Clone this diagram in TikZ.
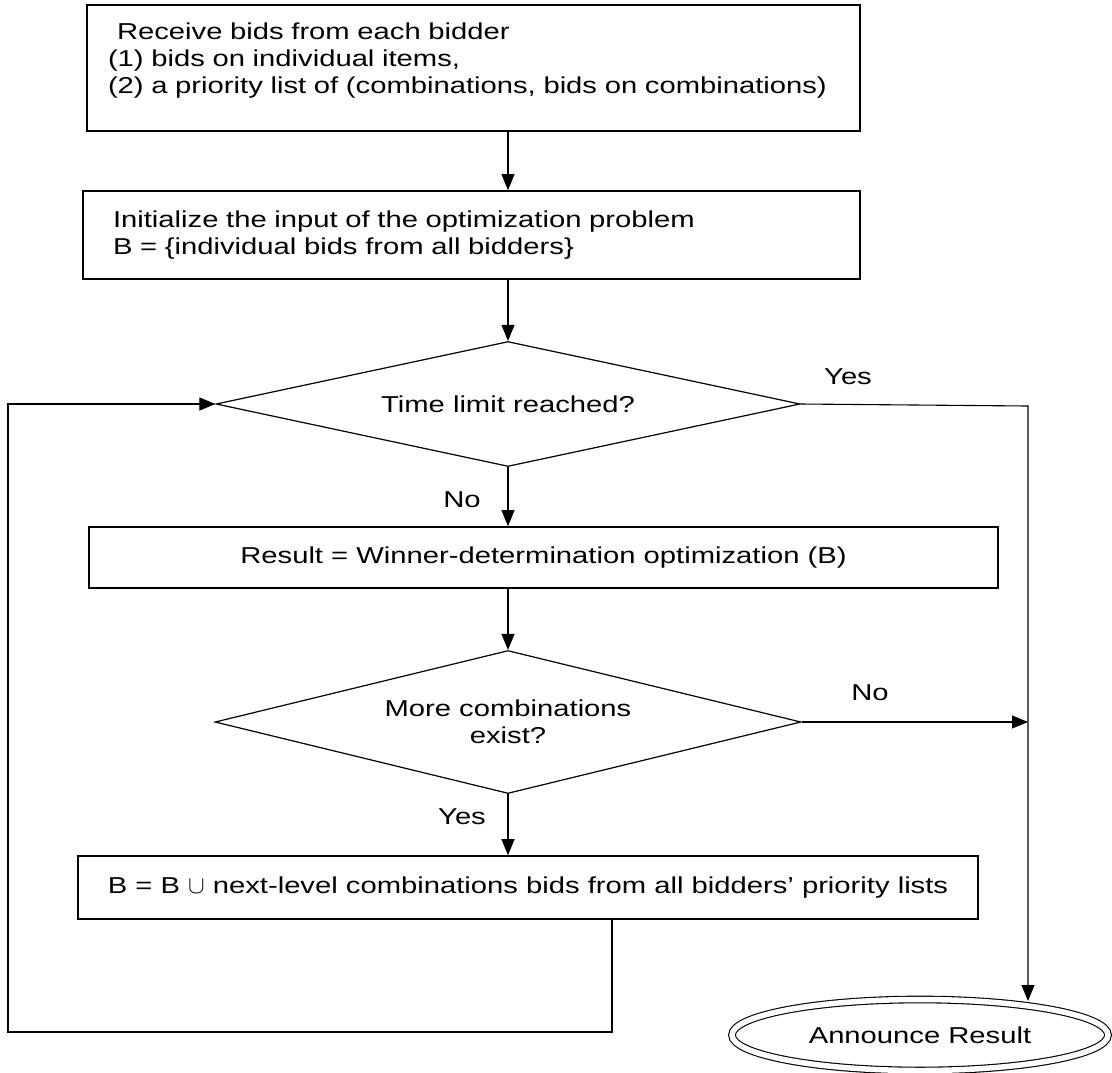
\documentclass[tikz,border=0pt]{standalone}
\usepackage{fontspec}
\setmainfont{Liberation Sans}[FakeStretch=1.27]
\usetikzlibrary{shapes.geometric,arrows.meta,calc}
\begin{document}
\begin{tikzpicture}[x=1pt,y=-1pt,
  every node/.style={font=\fontsize{23}{27}\selectfont},
  box/.style={draw,line width=1.6pt,rectangle,inner sep=0pt},
  decision/.style={draw,line width=1.2pt,diamond,inner sep=0pt},
  conn/.style={line width=1.1pt},
  arr/.style={conn,-{Triangle[length=16pt,width=13pt]}},
  lbl/.style={inner sep=0pt}]
\useasboundingbox (0,0) rectangle (1112,1072);

\node[box,minimum width=773pt,minimum height=126pt,text width=731pt,align=left] (b1) at (473.5,68)
  {\hspace*{9pt}Receive bids from each bidder\\(1) bids on individual items,\\(2) a priority list of (combinations, bids on combinations)\\[-8pt]\mbox{}};
\node[box,minimum width=777pt,minimum height=88pt,text width=717pt,align=left] (b2) at (471.5,235)
  {Initialize the input of the optimization problem\\B = \{individual bids from all bidders\}};
\node[decision,aspect=4.7,minimum width=584pt,minimum height=125pt] (d1) at (508,404) {Time limit reached?};
\node[box,minimum width=909pt,minimum height=61pt] (b3) at (543.5,557.5)
  {Result = Winner-determination optimization (B)};
\node[decision,aspect=4.1,minimum width=586pt,minimum height=143pt,align=center] (d2) at (508,722)
  {More combinations\\exist?};
\node[box,minimum width=900pt,minimum height=63pt] (b4) at (528,887.5)
  {B = B $\cup$ next-level combinations bids from all bidders’ priority lists};
\node[draw,ellipse,double,double distance=5.5pt,line width=1.1pt,minimum width=376pt,minimum height=71pt,inner sep=0pt] (ann) at (920,1035) {Announce Result};

\node[lbl] (yes1) at (848,377) {Yes};
\node[lbl] (no1) at (462,500) {No};
\node[lbl] (no2) at (870,693) {No};
\node[lbl] (yes2) at (462,817) {Yes};

\coordinate (rt) at (1028,406);
\coordinate (annin) at (1028,1001);
\coordinate (lp) at (612,1032);
\coordinate (ll) at (8,1032);

\draw[arr] (b1.south -| d1.north) -- (b2.north -| d1.north);
\draw[arr] (b2.south -| d1.north) -- (d1.north);
\draw[arr] (d1.south) -- (b3.north -| d1.south);
\draw[arr] (b3.south -| d2.north) -- (d2.north);
\draw[arr] (d2.south) -- (b4.north -| d2.south);
\draw[arr] (d1.east) -- (rt) -- (annin);
\draw[arr] (d2.east) -- (d2.east -| rt);
\draw[arr] (b4.south -| lp) -- (lp) -- (ll) -- (ll |- d1.west) -- (d1.west);
\end{tikzpicture}
\end{document}
